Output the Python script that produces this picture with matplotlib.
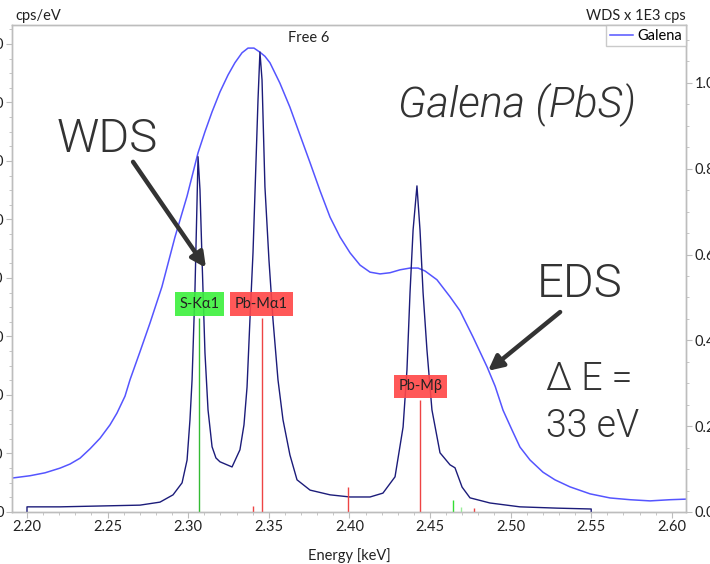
import matplotlib
matplotlib.use('Agg')
import matplotlib.pyplot as plt
from matplotlib.ticker import MultipleLocator, FormatStrFormatter

plt.rcParams['font.family'] = ['Lato', 'DejaVu Sans']

# EDS spectrum, left axis (cps/eV)
eds_kev = [2.1907, 2.2019, 2.2112, 2.2205, 2.2267, 2.2329, 2.2391, 2.2453, 2.2515, 2.2558,
           2.2608, 2.2639, 2.2701, 2.2763, 2.2837, 2.2918, 2.2993, 2.3061, 2.3104, 2.3148,
           2.3197, 2.3247, 2.3290, 2.3334, 2.3371, 2.3408, 2.3445, 2.3476, 2.3507, 2.3569,
           2.3631, 2.3694, 2.3756, 2.3818, 2.3880, 2.3942, 2.4004, 2.4066, 2.4128, 2.4190,
           2.4252, 2.4314, 2.4376, 2.4426, 2.4469, 2.4543, 2.4624, 2.4686, 2.4767, 2.4854,
           2.4904, 2.4953, 2.5009, 2.5058, 2.5120, 2.5201, 2.5275, 2.5368, 2.5493, 2.5617,
           2.5741, 2.5865, 2.5989, 2.6088]
eds_cps = [58, 62, 67, 75, 82, 92, 108, 126, 149, 169,
           198, 226, 274, 323, 385, 470, 540, 614, 650, 684,
           718, 747, 768, 785, 793, 793, 786, 779, 768, 733,
           692, 644, 597, 549, 504, 470, 443, 422, 410, 407,
           409, 414, 417, 417, 412, 397, 368, 344, 299, 248,
           215, 174, 140, 111, 89, 68, 55, 43, 31, 24,
           21, 19, 21, 22]

# WDS spectrum, right axis (x 1E3 cps)
wds_kev = [2.2000, 2.2000, 2.2205, 2.2453, 2.2701, 2.2825, 2.2906, 2.2962, 2.2993, 2.3011,
           2.3024, 2.3042, 2.3055, 2.3061, 2.3073, 2.3086, 2.3104, 2.3123, 2.3148, 2.3172,
           2.3197, 2.3272, 2.3321, 2.3346, 2.3365, 2.3383, 2.3402, 2.3421, 2.3433, 2.3445,
           2.3458, 2.3476, 2.3501, 2.3526, 2.3557, 2.3588, 2.3631, 2.3675, 2.3756, 2.3880,
           2.4004, 2.4128, 2.4208, 2.4283, 2.4333, 2.4357, 2.4376, 2.4395, 2.4419, 2.4438,
           2.4457, 2.4481, 2.4512, 2.4562, 2.4624, 2.4655, 2.4699, 2.4748, 2.4872, 2.5058,
           2.5288, 2.5500, 2.5500]
wds_kcps = [0.0, 0.012, 0.012, 0.014, 0.016, 0.023, 0.040, 0.068, 0.121, 0.215,
            0.308, 0.518, 0.727, 0.828, 0.751, 0.587, 0.371, 0.238, 0.152, 0.126,
            0.117, 0.105, 0.145, 0.203, 0.291, 0.448, 0.604, 0.821, 0.960, 1.072,
            1.007, 0.758, 0.587, 0.448, 0.308, 0.215, 0.133, 0.075, 0.051, 0.040,
            0.035, 0.035, 0.044, 0.082, 0.198, 0.331, 0.511, 0.657, 0.760, 0.657,
            0.511, 0.378, 0.238, 0.138, 0.110, 0.103, 0.058, 0.033, 0.021, 0.012,
            0.009, 0.007, 0.0]

# element marker lines (right axis units)
line_kev = [2.307, 2.346, 2.444, 2.340, 2.399, 2.464, 2.469, 2.477]
line_height = [0.452, 0.452, 0.261, 0.013, 0.058, 0.028, 0.012, 0.010]
line_color = ['#33bb33', '#ee4444', '#ee4444', '#ee4444', '#ee4444', '#33dd33', '#99ee99', '#ee4444']

peak_labels = ['S-Kα1', 'Pb-Mα1', 'Pb-Mβ']
peak_label_kev = [2.307, 2.3455, 2.444]
peak_label_y = [0.485, 0.485, 0.2925]
peak_label_color = ['#3cf03c', '#ff4646', '#ff4646']

grey = '#bdbdbd'
eds_color = '#5555ff'
wds_color = '#1c1c7a'
note_color = '#333333'

fig = plt.figure(figsize=(7.10, 5.64), dpi=100)
ax = fig.add_axes([0.0169, 0.0922, 0.9493, 0.8635])
ax2 = ax.twinx()

eds_line, = ax.plot(eds_kev, eds_cps, color=eds_color, lw=1.1, label='Galena')
ax2.plot(wds_kev, wds_kcps, color=wds_color, lw=1.0)
for k, h, c in zip(line_kev, line_height, line_color):
    ax2.vlines(k, 0, h, color=c, lw=1.0)
for t, k, y, c in zip(peak_labels, peak_label_kev, peak_label_y, peak_label_color):
    ax2.text(k, y, t, ha='center', va='center', fontsize=10.5, color='#222222',
             bbox=dict(boxstyle='square,pad=0.33', fc=c, ec='none', alpha=0.9))

ax.set_xlim(2.1907, 2.6088)
ax.set_ylim(0, 832.5)
ax2.set_ylim(0, 1.135)

ax.xaxis.set_major_locator(MultipleLocator(0.05))
ax.xaxis.set_minor_locator(MultipleLocator(0.01))
ax.xaxis.set_major_formatter(FormatStrFormatter('%.2f'))
ax.yaxis.set_major_locator(MultipleLocator(100))
ax.yaxis.set_minor_locator(MultipleLocator(25))
ax2.yaxis.set_major_locator(MultipleLocator(0.2))
ax2.yaxis.set_minor_locator(MultipleLocator(0.05))
ax2.yaxis.set_major_formatter(FormatStrFormatter('%.1f'))

for a in (ax, ax2):
    for s in a.spines.values():
        s.set_color(grey)
        s.set_linewidth(1.0)
    a.tick_params(which='both', direction='out', color=grey, labelsize=10.5, labelcolor='#222222')
    a.tick_params(which='major', length=4, pad=2)
    a.tick_params(which='minor', length=2.5)

ax.set_xlabel('Energy [keV]', fontsize=10.5, color='#222222', labelpad=10)
fig.text(0.021, 0.965, 'cps/eV', fontsize=10.5, color='#222222', ha='left', va='baseline')
fig.text(0.966, 0.965, 'WDS x 1E3 cps', fontsize=10.5, color='#222222', ha='right', va='baseline')
ax.text(0.4407, 0.973, 'Free 6', transform=ax.transAxes, fontsize=10.5, color='#222222',
        ha='center', va='center')

leg = ax2.legend(handles=[eds_line], loc='upper right', borderaxespad=0, fancybox=False,
                 fontsize=10.5, handlelength=1.6, handletextpad=0.3, borderpad=0.25)
leg.get_frame().set_edgecolor(grey)
leg.get_frame().set_linewidth(1.0)

big = dict(family=['Roboto', 'DejaVu Sans'], fontweight=300, color=note_color)
ax2.text(2.2186, 0.839, 'WDS', fontsize=34, ha='left', va='baseline', **big)
ax2.text(2.4301, 0.921, 'Galena (PbS)', fontsize=31, style='italic', ha='left', va='baseline', **big)
ax2.text(2.5164, 0.501, 'EDS', fontsize=34, ha='left', va='baseline', **big)
ax2.text(2.5220, 0.284, 'Δ E =', fontsize=27, ha='left', va='baseline', **big)
ax2.text(2.5220, 0.175, '33 eV', fontsize=27, ha='left', va='baseline', **big)

arrow = dict(arrowstyle='-|>', lw=3.2, color=note_color, mutation_scale=22, shrinkA=0, shrinkB=0)
ax2.annotate('', xy=(2.3110, 0.569), xytext=(2.2658, 0.816), arrowprops=arrow)
ax2.annotate('', xy=(2.4860, 0.329), xytext=(2.5307, 0.466), arrowprops=arrow)

fig.savefig('out.png', dpi=100)
